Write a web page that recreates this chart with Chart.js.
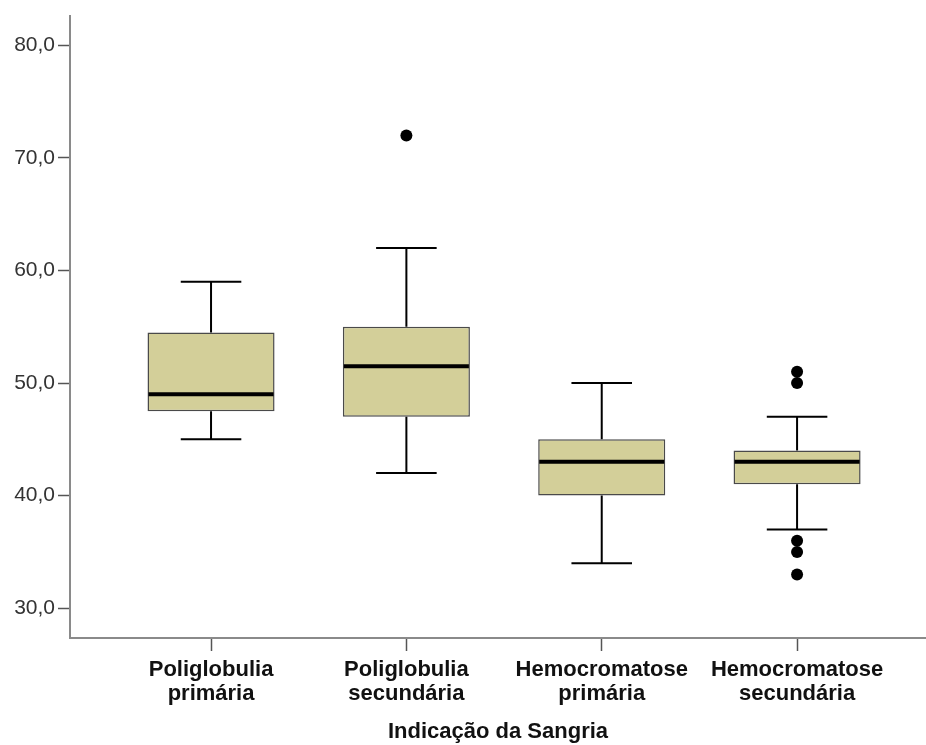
<!DOCTYPE html>
<html>
<head>
<meta charset="utf-8">
<script src="https://cdn.jsdelivr.net/npm/chart.js@4.4.1/dist/chart.umd.min.js"></script>
<style>
  html, body { margin: 0; padding: 0; background: #ffffff; }
  #wrap { width: 926px; height: 745px; }
</style>
</head>
<body>
<div id="wrap"><canvas id="c" width="926" height="745"></canvas></div>
<script>
// Hematocrit by bloodletting indication (boxplot summary values)
const categories = [
  'Poliglobulia primária',
  'Poliglobulia secundária',
  'Hemocromatose primária',
  'Hemocromatose secundária'
];
const whiskerLow  = [45, 42, 34, 37];
const q1          = [47.5, 47, 40, 41];
const median      = [49, 51.5, 43, 43];
const q3          = [54.5, 55, 45, 44];
const whiskerHigh = [59, 62, 50, 47];
const outliers    = [[], [72], [], [51, 50, 36, 35, 33]];
const yTicks      = [30, 40, 50, 60, 70, 80];
const axisTitle   = 'Indicação da Sangria';

const FONT = "'Liberation Sans', Arial, sans-serif";
const BOX_FILL = '#d3cf99';
const CAP_HALF = 0.155;   // whisker cap half-width, in category units

const boxData = categories.map((_, i) => ({ x: i + 1, y: [q1[i], q3[i]] }));
const outlierData = [];
outliers.forEach((list, i) => list.forEach(v => outlierData.push({ x: i + 1, y: v })));

// whiskers and median lines drawn on top of the boxes
const boxDetails = {
  id: 'boxDetails',
  afterDatasetDraw(chart, args) {
    if (args.index !== 0) return;
    const { ctx, scales: { x, y } } = chart;
    const meta = chart.getDatasetMeta(0);
    ctx.save();
    ctx.strokeStyle = '#000';
    ctx.lineCap = 'butt';
    categories.forEach((_, i) => {
      const cx = x.getPixelForValue(i + 1);
      const capL = x.getPixelForValue(i + 1 - CAP_HALF);
      const capR = x.getPixelForValue(i + 1 + CAP_HALF);
      const yLo = y.getPixelForValue(whiskerLow[i]);
      const yHi = y.getPixelForValue(whiskerHigh[i]);
      const yQ1 = y.getPixelForValue(q1[i]);
      const yQ3 = y.getPixelForValue(q3[i]);
      ctx.lineWidth = 2;
      ctx.beginPath();
      ctx.moveTo(cx, yQ3); ctx.lineTo(cx, yHi);
      ctx.moveTo(capL, yHi); ctx.lineTo(capR, yHi);
      ctx.moveTo(cx, yQ1); ctx.lineTo(cx, yLo);
      ctx.moveTo(capL, yLo); ctx.lineTo(capR, yLo);
      ctx.stroke();
      const bar = meta.data[i];
      const half = bar.width / 2;
      const yM = y.getPixelForValue(median[i]);
      ctx.lineWidth = 4;
      ctx.beginPath();
      ctx.moveTo(bar.x - half + 1, yM); ctx.lineTo(bar.x + half - 1, yM);
      ctx.stroke();
    });
    ctx.restore();
  }
};

new Chart(document.getElementById('c'), {
  type: 'scatter',
  data: {
    datasets: [
      {
        type: 'bar',
        data: boxData,
        backgroundColor: BOX_FILL,
        borderColor: '#4a4a4a',
        borderWidth: 1.5,
        borderSkipped: false,
        categoryPercentage: 0.8,
        barPercentage: 0.813,
        order: 2
      },
      {
        type: 'scatter',
        data: outlierData,
        pointRadius: 6,
        pointBackgroundColor: '#000',
        pointBorderWidth: 0,
        order: 1
      }
    ]
  },
  options: {
    responsive: false,
    animation: false,
    layout: { autoPadding: false, padding: { top: 13, right: 0, bottom: 0, left: 0 } },
    plugins: { legend: { display: false }, tooltip: { enabled: false } },
    scales: {
      x: {
        type: 'linear',
        offset: false,
        min: 0.278,
        max: 4.66,
        afterBuildTicks: s => { s.ticks = categories.map((_, i) => ({ value: i + 1 })); },
        afterFit: s => { s.height = 107; },
        grid: {
          offset: false,
          drawOnChartArea: false,
          drawTicks: true,
          tickLength: 13,
          tickColor: '#555',
          tickWidth: 1.5
        },
        border: { display: true, color: '#8a8a8a', width: 2 },
        ticks: {
          autoSkip: false,
          maxRotation: 0,
          padding: 7,
          color: '#111',
          font: { family: FONT, size: 22, weight: 'bold', lineHeight: 1.1 },
          callback: v => categories[v - 1] ? categories[v - 1].split(' ') : ''
        },
        title: {
          display: true,
          text: axisTitle,
          color: '#111',
          font: { family: FONT, size: 22, weight: 'bold', lineHeight: 1.15 },
          padding: { top: 0, bottom: 0 }
        }
      },
      y: {
        type: 'linear',
        min: 27.35,
        max: 82.65,
        afterBuildTicks: s => { s.ticks = yTicks.map(v => ({ value: v })); },
        afterFit: s => { s.width = 70; },
        grid: {
          drawOnChartArea: false,
          drawTicks: true,
          tickLength: 12,
          tickColor: '#555',
          tickWidth: 1.5
        },
        border: { display: true, color: '#8a8a8a', width: 2 },
        ticks: {
          padding: 3,
          color: '#333',
          font: { family: FONT, size: 21 },
          callback: v => v.toFixed(1).replace('.', ',')
        }
      }
    }
  },
  plugins: [boxDetails]
});
</script>
</body>
</html>
